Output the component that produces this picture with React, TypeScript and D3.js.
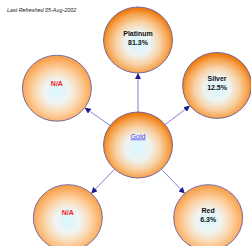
import React, { useEffect, useRef } from 'react';
import * as d3 from 'd3';

// node data
const centerName = 'Gold';
const childNames = ['Platinum', 'Silver', 'N/A', 'N/A', 'Red'];
const childValues = ['81.3%', '12.5%', '', '', '6.3%'];
const childAngles = [-90, -37, -145, 134, 46];
const childDist = [105, 99, 99, 101, 101];
const childShade = ['dark', 'dark', 'light', 'light', 'light'];
const refreshed = 'Last Refreshed 05-Aug-2002';

const App = () => {
    const ref = useRef<SVGSVGElement>(null);

    useEffect(() => {
        const svg = d3.select(ref.current);
        svg.selectAll('*').remove();
        const font = 'Liberation Sans, Arial, sans-serif';
        const cx = 138, cy = 145, rx = 34.5, ry = 33;

        const defs = svg.append('defs');
        const grads: Record<string, string[]> = {
            dark: ['#d6f7ff', '#eef4f2', '#f8d2a6', '#f6a24c', '#ec7c10'],
            light: ['#d6f7ff', '#f0f4f2', '#fbd8b0', '#fbb670', '#f8a14e']
        };
        const offs = [0, 0.35, 0.62, 0.86, 1];
        Object.keys(grads).forEach(k => {
            const g = defs.append('radialGradient').attr('id', 'g-' + k)
                .attr('cx', '50%').attr('cy', '55%').attr('r', '52%');
            offs.forEach((o, i) =>
                g.append('stop').attr('offset', o).attr('stop-color', grads[k][i]));
        });
        defs.append('marker').attr('id', 'arr')
            .attr('viewBox', '0 0 10 10').attr('refX', 10).attr('refY', 5)
            .attr('markerWidth', 6).attr('markerHeight', 6)
            .attr('markerUnits', 'userSpaceOnUse').attr('orient', 'auto')
            .append('path').attr('d', 'M0,0L10,5L0,10z').attr('fill', '#1a1a8c');

        const nodes = childNames.map((name, i) => {
            const a = childAngles[i] * Math.PI / 180;
            return { name, value: childValues[i], shade: childShade[i],
                x: cx + childDist[i] * Math.cos(a), y: cy + childDist[i] * Math.sin(a) };
        });

        // ellipse edge point in direction (dx, dy)
        const edge = (x: number, y: number, dx: number, dy: number) => {
            const t = 1 / Math.sqrt((dx * dx) / (rx * rx) + (dy * dy) / (ry * ry));
            return [x + dx * t, y + dy * t];
        };

        nodes.forEach(n => {
            const dx = n.x - cx, dy = n.y - cy;
            const [x1, y1] = edge(cx, cy, dx, dy);
            const [x2, y2] = edge(n.x, n.y, -dx, -dy);
            svg.append('line').attr('x1', x1).attr('y1', y1).attr('x2', x2).attr('y2', y2)
                .attr('stroke', '#8484cc').attr('stroke-width', 1)
                .attr('marker-end', 'url(#arr)');
        });

        const all = [{ name: centerName, value: '', shade: 'dark', x: cx, y: cy }, ...nodes];
        svg.selectAll('ellipse.node').data(all).enter().append('ellipse')
            .attr('cx', d => d.x).attr('cy', d => d.y).attr('rx', rx).attr('ry', ry)
            .attr('fill', d => `url(#g-${d.shade})`)
            .attr('stroke', '#5a4f9e').attr('stroke-width', 0.8);

        nodes.forEach(n => {
            if (n.name === 'N/A') {
                svg.append('text').attr('x', n.x).attr('y', n.y - 2.5)
                    .attr('text-anchor', 'middle').attr('font-family', font)
                    .attr('font-size', 7).attr('font-weight', 'bold')
                    .attr('fill', '#f01e28').text(n.name);
            } else {
                svg.append('text').attr('x', n.x).attr('y', n.y - 4.5)
                    .attr('text-anchor', 'middle').attr('font-family', font)
                    .attr('font-size', 7).attr('font-weight', 'bold')
                    .attr('fill', '#111').text(n.name);
                svg.append('text').attr('x', n.x).attr('y', n.y + 4.5)
                    .attr('text-anchor', 'middle').attr('font-family', font)
                    .attr('font-size', 7).attr('font-weight', 'bold')
                    .attr('fill', '#111').text(n.value);
            }
        });

        svg.append('text').attr('x', cx).attr('y', cy - 6.5)
            .attr('text-anchor', 'middle').attr('font-family', font)
            .attr('font-size', 7).attr('fill', '#3c3cf0')
            .attr('text-decoration', 'underline').text(centerName);

        svg.append('text').attr('x', 7).attr('y', 11.5)
            .attr('font-family', font).attr('font-size', 5.4)
            .attr('font-style', 'italic').attr('fill', '#222')
            .text(refreshed);
    }, []);

    return (
        <svg ref={ref} width={251} height={246}
            style={{ position: 'absolute', left: 0, top: 0, background: '#fff' }}></svg>
    );
};

export default App;
